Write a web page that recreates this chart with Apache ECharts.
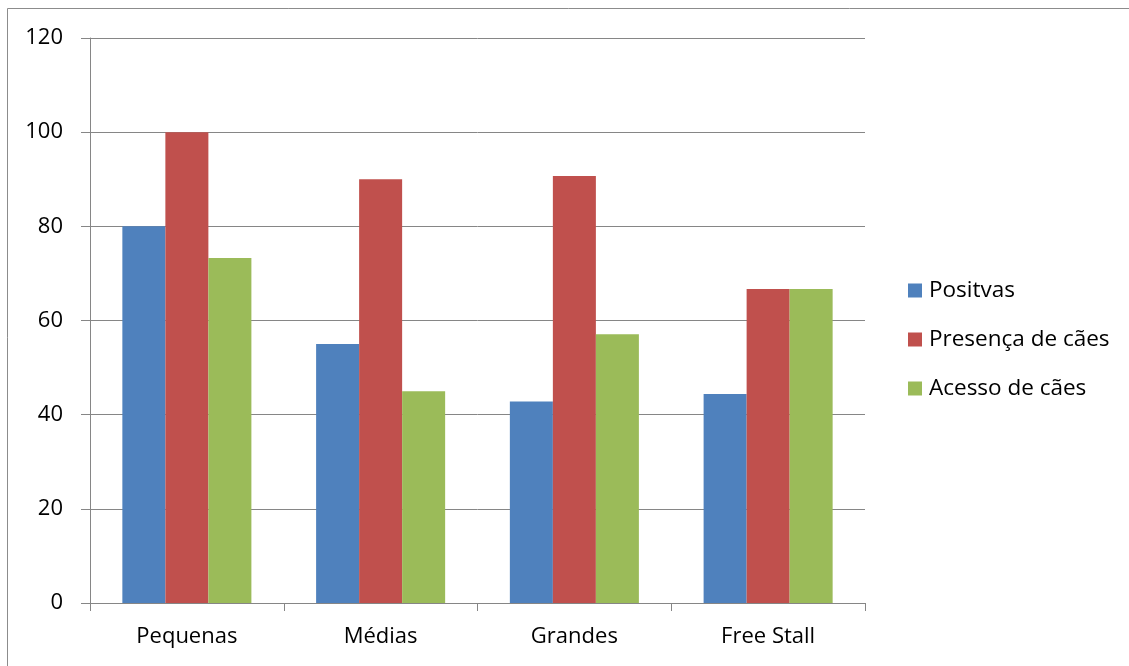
<!DOCTYPE html>
<html>
<head>
<meta charset="utf-8">
<script src="https://cdn.jsdelivr.net/npm/echarts@6/dist/echarts.min.js"></script>
<style>
html,body{margin:0;padding:0;background:#fff;}
#chart{width:1129px;height:666px;}
</style>
</head>
<body>
<div id="chart"></div>
<script>
const categories = ['Pequenas', 'Médias', 'Grandes', 'Free Stall'];
const positivas = [80, 55, 42.8, 44.4];
const presenca = [100, 90, 90.7, 66.7];
const acesso = [73.3, 45, 57.1, 66.7];
const seriesNames = ['Positvas', 'Presença de cães', 'Acesso de cães'];
const colors = ['#4F81BD', '#C0504D', '#9BBB59'];

const FONT = '"Open Sans", "Noto Sans", sans-serif';
const chart = echarts.init(document.getElementById('chart'), null, {renderer: 'canvas'});
const data = [positivas, presenca, acesso];
chart.setOption({
  animation: false,
  backgroundColor: '#fff',
  color: colors,
  graphic: [{
    type: 'rect',
    shape: {x: 7.5, y: 8.5, width: 1300, height: 800},
    style: {fill: 'none', stroke: '#8c8c8c', lineWidth: 1},
    silent: true
  }],
  grid: {left: 90, right: 264, top: 38, bottom: 63, containLabel: false},
  legend: {
    orient: 'vertical',
    left: 908,
    top: 279,
    padding: 0,
    itemWidth: 14,
    itemHeight: 14,
    itemGap: 26,
    icon: 'rect',
    textStyle: {fontFamily: FONT, fontSize: 22.5, color: '#000', lineHeight: 22, padding: [0, 0, 0, 2]},
    data: seriesNames
  },
  xAxis: {
    type: 'category',
    data: categories,
    boundaryGap: true,
    axisLine: {lineStyle: {color: '#868686', width: 1}},
    axisTick: {show: true, length: 8, lineStyle: {color: '#868686'}},
    axisLabel: {fontFamily: FONT, fontSize: 22, color: '#000', margin: 23}
  },
  yAxis: {
    type: 'value',
    min: 0, max: 120, interval: 20,
    axisLine: {show: true, lineStyle: {color: '#868686', width: 1}},
    axisTick: {show: true, inside: false, length: 9, lineStyle: {color: '#868686'}},
    axisLabel: {fontFamily: FONT, fontSize: 22, color: '#000', margin: 27},
    splitLine: {show: true, lineStyle: {color: '#868686', width: 1}}
  },
  series: seriesNames.map((n, i) => ({
    name: n,
    type: 'bar',
    data: data[i],
    barGap: '0%',
    barCategoryGap: '33.4%',
    itemStyle: {color: colors[i]}
  }))
});
</script>
</body>
</html>
